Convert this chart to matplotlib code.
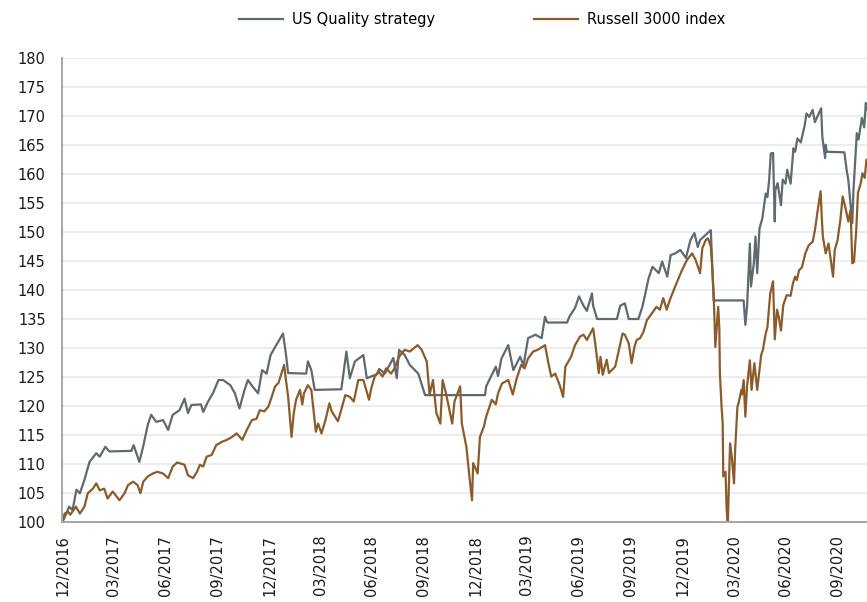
import matplotlib
matplotlib.use("Agg")
import matplotlib.pyplot as plt
import matplotlib.dates as mdates
import pandas as pd

# US Quality strategy
quality_dates = [
    "2016-12-30", "2017-01-06", "2017-01-11", "2017-01-17", "2017-01-24", "2017-01-30",
    "2017-02-07", "2017-02-16", "2017-02-28", "2017-03-06", "2017-03-16", "2017-03-23",
    "2017-05-01", "2017-05-05", "2017-05-15", "2017-05-22", "2017-05-30", "2017-06-05",
    "2017-06-14", "2017-06-26", "2017-07-05", "2017-07-13", "2017-07-25", "2017-08-03",
    "2017-08-09", "2017-08-15", "2017-09-01", "2017-09-05", "2017-09-13", "2017-09-22",
    "2017-10-02", "2017-10-10", "2017-10-23", "2017-10-31", "2017-11-08", "2017-11-17",
    "2017-11-23", "2017-12-01", "2017-12-11", "2017-12-18", "2017-12-26", "2018-01-02",
    "2018-01-12", "2018-01-24", "2018-01-29", "2018-02-02", "2018-03-06", "2018-03-09",
    "2018-03-15", "2018-03-21", "2018-05-07", "2018-05-16", "2018-05-22", "2018-05-31",
    "2018-06-15", "2018-06-21", "2018-07-09", "2018-07-13", "2018-07-23", "2018-08-07",
    "2018-08-13", "2018-08-17", "2018-08-27", "2018-09-05", "2018-09-20", "2018-10-02",
    "2019-01-16", "2019-01-18", "2019-01-28", "2019-02-04", "2019-02-08", "2019-02-14",
    "2019-02-26", "2019-03-07", "2019-03-19", "2019-03-25", "2019-04-02", "2019-04-15",
    "2019-04-26", "2019-05-02", "2019-05-06", "2019-06-10", "2019-06-14", "2019-06-24",
    "2019-07-01", "2019-07-09", "2019-07-15", "2019-07-24", "2019-07-26", "2019-08-02",
    "2019-09-06", "2019-09-12", "2019-09-20", "2019-09-27", "2019-10-14", "2019-10-21",
    "2019-10-25", "2019-11-01", "2019-11-08", "2019-11-19", "2019-11-25", "2019-12-04",
    "2019-12-10", "2019-12-18", "2019-12-27", "2020-01-06", "2020-01-14", "2020-01-21",
    "2020-01-27", "2020-01-31", "2020-02-10", "2020-02-19", "2020-02-24", "2020-04-17",
    "2020-04-20", "2020-04-23", "2020-04-28", "2020-04-30", "2020-05-05", "2020-05-08",
    "2020-05-11", "2020-05-15", "2020-05-20", "2020-05-26", "2020-05-29", "2020-06-01",
    "2020-06-04", "2020-06-08", "2020-06-11", "2020-06-12", "2020-06-16", "2020-06-22",
    "2020-06-25", "2020-06-30", "2020-07-03", "2020-07-09", "2020-07-14", "2020-07-17",
    "2020-07-21", "2020-07-27", "2020-08-03", "2020-08-06", "2020-08-11", "2020-08-17",
    "2020-08-21", "2020-09-01", "2020-09-03", "2020-09-08", "2020-09-09", "2020-09-11",
    "2020-10-12", "2020-10-16", "2020-10-19", "2020-10-26", "2020-10-28", "2020-11-03",
    "2020-11-06", "2020-11-12", "2020-11-16", "2020-11-19", "2020-11-20",
]
quality_values = [
    100.0, 101.5, 102.7, 102.1, 105.6, 105.0,
    107.3, 110.4, 111.9, 111.3, 113.0, 112.2,
    112.3, 113.3, 110.4, 113.1, 116.8, 118.5,
    117.3, 117.6, 115.9, 118.5, 119.3, 121.3,
    118.8, 120.2, 120.3, 119.0, 120.7, 122.2,
    124.5, 124.5, 123.6, 122.2, 119.6, 122.8,
    124.5, 123.4, 122.2, 126.2, 125.6, 128.8,
    130.5, 132.5, 129.1, 125.7, 125.6, 127.7,
    126.2, 122.8, 122.9, 129.4, 124.8, 127.7,
    128.8, 124.8, 125.5, 126.4, 125.6, 128.3,
    124.8, 129.7, 128.8, 127.1, 125.6, 121.9,
    121.9, 123.4, 125.4, 126.8, 125.2, 128.2,
    130.5, 126.2, 128.5, 127.0, 131.7, 132.3,
    131.7, 135.4, 134.4, 134.4, 135.4, 136.9,
    138.9, 137.3, 136.4, 139.4, 137.3, 135.0,
    135.0, 137.3, 137.7, 135.0, 135.0, 137.1,
    138.8, 142.0, 144.0, 142.9, 144.9, 142.3,
    146.0, 146.3, 146.9, 145.5, 148.6, 149.8,
    147.4, 148.6, 149.5, 150.3, 138.2, 138.2,
    134.0, 137.1, 148.0, 140.6, 144.6, 149.2,
    142.9, 150.6, 152.3, 156.6, 156.0, 158.9,
    163.5, 163.6, 151.8, 157.2, 158.4, 154.6,
    159.0, 158.3, 160.7, 158.3, 164.4, 163.8,
    166.1, 165.4, 168.4, 170.4, 169.8, 171.0,
    168.9, 171.3, 166.4, 162.7, 165.0, 163.8,
    163.7, 160.7, 158.9, 151.5, 157.0, 167.0,
    165.9, 169.6, 168.0, 172.2, 171.0,
]

# Russell 3000 index
russell_dates = [
    "2016-12-30", "2017-01-03", "2017-01-09", "2017-01-13", "2017-01-23", "2017-01-30",
    "2017-02-07", "2017-02-13", "2017-02-22", "2017-02-28", "2017-03-06", "2017-03-14",
    "2017-03-20", "2017-03-29", "2017-04-10", "2017-04-19", "2017-04-25", "2017-05-04",
    "2017-05-12", "2017-05-17", "2017-05-22", "2017-05-30", "2017-06-08", "2017-06-16",
    "2017-06-26", "2017-07-05", "2017-07-13", "2017-07-21", "2017-08-03", "2017-08-09",
    "2017-08-18", "2017-08-25", "2017-08-30", "2017-09-05", "2017-09-11", "2017-09-20",
    "2017-09-28", "2017-10-09", "2017-10-17", "2017-10-26", "2017-11-03", "2017-11-13",
    "2017-11-21", "2017-11-30", "2017-12-08", "2017-12-14", "2017-12-22", "2017-12-29",
    "2018-01-04", "2018-01-10", "2018-01-16", "2018-01-26", "2018-01-29", "2018-02-02",
    "2018-02-08", "2018-02-12", "2018-02-16", "2018-02-23", "2018-02-27", "2018-03-02",
    "2018-03-09", "2018-03-15", "2018-03-23", "2018-03-27", "2018-04-02", "2018-04-09",
    "2018-04-16", "2018-04-20", "2018-05-01", "2018-05-07", "2018-05-14", "2018-05-22",
    "2018-05-29", "2018-06-06", "2018-06-15", "2018-06-25", "2018-06-29", "2018-07-05",
    "2018-07-12", "2018-07-19", "2018-07-25", "2018-08-03", "2018-08-09", "2018-08-17",
    "2018-08-27", "2018-09-05", "2018-09-19", "2018-09-26", "2018-10-05", "2018-10-10",
    "2018-10-16", "2018-10-22", "2018-10-29", "2018-11-02", "2018-11-08", "2018-11-19",
    "2018-11-23", "2018-12-03", "2018-12-06", "2018-12-14", "2018-12-20", "2018-12-24",
    "2018-12-26", "2019-01-03", "2019-01-07", "2019-01-14", "2019-01-18", "2019-01-28",
    "2019-02-04", "2019-02-08", "2019-02-15", "2019-02-26", "2019-03-06", "2019-03-13",
    "2019-03-21", "2019-03-27", "2019-04-02", "2019-04-11", "2019-04-19", "2019-05-02",
    "2019-05-08", "2019-05-13", "2019-05-20", "2019-05-28", "2019-06-03", "2019-06-07",
    "2019-06-17", "2019-06-24", "2019-07-03", "2019-07-09", "2019-07-15", "2019-07-26",
    "2019-07-30", "2019-08-05", "2019-08-08", "2019-08-12", "2019-08-19", "2019-08-23",
    "2019-09-03", "2019-09-09", "2019-09-16", "2019-09-20", "2019-09-27", "2019-10-02",
    "2019-10-07", "2019-10-11", "2019-10-17", "2019-10-23", "2019-10-29", "2019-11-07",
    "2019-11-15", "2019-11-21", "2019-11-27", "2019-12-03", "2019-12-09", "2019-12-18",
    "2019-12-30", "2020-01-08", "2020-01-17", "2020-01-23", "2020-01-31", "2020-02-04",
    "2020-02-10", "2020-02-14", "2020-02-19", "2020-02-21", "2020-02-24", "2020-02-27",
    "2020-03-03", "2020-03-05", "2020-03-06", "2020-03-09", "2020-03-11", "2020-03-12",
    "2020-03-16", "2020-03-18", "2020-03-20", "2020-03-24", "2020-03-27", "2020-03-31",
    "2020-04-02", "2020-04-06", "2020-04-08", "2020-04-13", "2020-04-14", "2020-04-17",
    "2020-04-20", "2020-04-23", "2020-04-28", "2020-05-01", "2020-05-06", "2020-05-11",
    "2020-05-18", "2020-05-21", "2020-05-26", "2020-05-29", "2020-06-03", "2020-06-08",
    "2020-06-11", "2020-06-15", "2020-06-18", "2020-06-22", "2020-06-26", "2020-07-02",
    "2020-07-09", "2020-07-13", "2020-07-17", "2020-07-20", "2020-07-24", "2020-07-29",
    "2020-08-04", "2020-08-10", "2020-08-17", "2020-08-21", "2020-08-26", "2020-08-31",
    "2020-09-02", "2020-09-04", "2020-09-09", "2020-09-14", "2020-09-18", "2020-09-22",
    "2020-09-25", "2020-09-30", "2020-10-05", "2020-10-09", "2020-10-14", "2020-10-19",
    "2020-10-23", "2020-10-26", "2020-10-29", "2020-11-02", "2020-11-05", "2020-11-10",
    "2020-11-13", "2020-11-17", "2020-11-20",
]
russell_values = [
    100.0, 101.5, 101.8, 101.3, 102.7, 101.5,
    102.7, 105.0, 105.8, 106.7, 105.5, 105.8,
    104.1, 105.3, 103.8, 105.0, 106.4, 107.0,
    106.4, 105.0, 107.0, 107.9, 108.4, 108.7,
    108.4, 107.6, 109.6, 110.3, 109.9, 108.1,
    107.6, 108.7, 109.9, 109.6, 111.3, 111.6,
    113.3, 113.9, 114.2, 114.7, 115.3, 114.2,
    115.9, 117.6, 117.8, 119.3, 119.1, 119.9,
    121.6, 123.4, 124.0, 127.1, 124.6, 121.7,
    114.7, 118.8, 121.1, 122.8, 120.3, 122.2,
    123.6, 122.8, 115.6, 117.0, 115.3, 117.6,
    120.5, 119.1, 117.4, 119.4, 121.9, 121.6,
    120.8, 124.5, 124.5, 121.1, 123.1, 125.1,
    125.9, 125.1, 126.5, 125.6, 126.5, 128.5,
    129.7, 129.4, 130.5, 129.7, 127.7, 122.0,
    124.5, 118.8, 117.0, 124.5, 122.2, 117.0,
    120.8, 123.4, 117.0, 113.0, 107.3, 103.8,
    110.2, 108.4, 114.7, 116.5, 118.2, 121.1,
    120.3, 122.2, 123.9, 124.5, 122.0, 124.8,
    127.1, 126.5, 128.2, 129.4, 129.7, 130.5,
    127.4, 125.1, 125.6, 123.6, 121.6, 126.8,
    128.5, 130.5, 132.0, 132.3, 131.4, 133.4,
    130.6, 125.7, 128.5, 125.4, 128.0, 125.7,
    126.8, 129.4, 132.5, 132.3, 130.8, 127.4,
    130.2, 131.4, 131.7, 132.8, 134.8, 136.0,
    137.1, 136.6, 138.6, 136.6, 138.4, 140.6,
    143.4, 145.2, 146.3, 145.2, 142.9, 147.2,
    148.6, 148.9, 147.5, 144.6, 139.4, 130.2,
    137.1, 133.5, 125.7, 119.9, 117.0, 107.9,
    108.7, 102.1, 99.6, 113.6, 111.3, 106.7,
    112.5, 119.9, 120.5, 122.8, 122.0, 124.5,
    118.2, 123.4, 127.9, 122.8, 127.4, 122.8,
    128.8, 129.7, 132.5, 133.6, 139.4, 141.5,
    131.5, 136.6, 135.4, 133.0, 137.4, 139.1,
    139.0, 141.1, 142.3, 141.7, 143.4, 143.9,
    146.3, 147.7, 148.3, 150.3, 153.8, 157.0,
    152.6, 149.2, 146.3, 148.0, 145.2, 142.3,
    146.9, 148.6, 152.1, 156.1, 154.1, 151.8,
    153.8, 144.6, 144.8, 150.3, 156.7, 158.4,
    160.1, 159.3, 162.4,
]

# quarterly tick dates shown on the x axis
tick_dates = pd.date_range("2016-12-31", "2020-09-30", freq="QE")

fig = plt.figure(figsize=(8.67, 6.02), dpi=100)
ax = fig.add_axes([0.0719, 0.1324, 0.9281, 0.7718])

ax.plot(pd.to_datetime(quality_dates), quality_values, color="#5f6a6f", lw=1.6,
        label="US Quality strategy")
ax.plot(pd.to_datetime(russell_dates), russell_values, color="#8c5b2b", lw=1.6,
        label="Russell 3000 index")

ax.set_ylim(100, 180)
ax.set_yticks(range(100, 181, 5))
ax.set_xlim(pd.Timestamp("2016-12-30"), pd.Timestamp("2020-11-21"))
ax.set_xticks(tick_dates)
ax.xaxis.set_major_formatter(mdates.DateFormatter("%m/%Y"))

ax.grid(axis="y", color="#ebebeb", lw=1.3)
ax.set_axisbelow(True)
for side in ["top", "right"]:
    ax.spines[side].set_visible(False)
for side in ["left", "bottom"]:
    ax.spines[side].set_color("#a6a6a6")
    ax.spines[side].set_linewidth(1.4)

ax.tick_params(axis="y", length=0, pad=12, labelsize=10.5, labelcolor="#1a1a1a")
ax.tick_params(axis="x", length=0, pad=9, labelsize=10.5, labelcolor="#1a1a1a",
               labelrotation=90)

fig.legend(loc="center", bbox_to_anchor=(0.556, 0.967), ncol=2, frameon=False,
           fontsize=10.5, handlelength=3.0, handletextpad=0.6, columnspacing=6.8)

fig.savefig("out.png", dpi=100)
